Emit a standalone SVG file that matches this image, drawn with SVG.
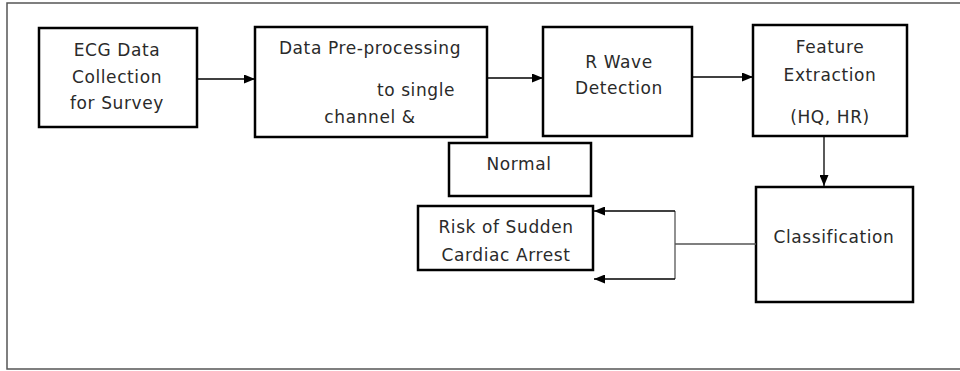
<svg xmlns="http://www.w3.org/2000/svg" width="960" height="371" viewBox="0 0 960 371">
<defs>
<style>
.frame{fill:none;stroke:#555;stroke-width:1.5}
.box{fill:#fff;stroke:#000;stroke-width:2.5}
.t{font-family:"DejaVu Sans",Verdana,sans-serif;font-size:17px;fill:#2a2a2a;letter-spacing:0.6px;text-anchor:middle}
.c{fill:none;stroke:#000;stroke-width:1.3}
.g{fill:none;stroke:#555;stroke-width:1.3}
</style>
<marker id="ah" markerWidth="11" markerHeight="9" refX="11" refY="4.5" orient="auto" markerUnits="userSpaceOnUse">
<path d="M0,0 L11,4.5 L0,9 Z" fill="#000"/>
</marker>
</defs>
<rect width="960" height="371" fill="#fff"/>
<rect class="frame" x="7" y="3" width="970" height="366"/>
<g id="n-ecg">
<rect class="box" x="39" y="28" width="158" height="99"/>
<text class="t" x="117" y="56">ECG Data</text>
<text class="t" x="117" y="83">Collection</text>
<text class="t" x="117" y="109">for Survey</text>
</g>
<g id="n-pre">
<rect class="box" x="255" y="27" width="232" height="110"/>
<text class="t" x="370" y="54">Data Pre-processing</text>
<text class="t" x="416" y="96">to single</text>
<text class="t" x="370" y="123">channel &amp;</text>
</g>
<g id="n-rwave">
<rect class="box" x="543" y="27" width="149" height="109"/>
<text class="t" x="619" y="68">R Wave</text>
<text class="t" x="619" y="94">Detection</text>
</g>
<g id="n-feature">
<rect class="box" x="753" y="25" width="154" height="111"/>
<text class="t" x="830" y="53">Feature</text>
<text class="t" x="830" y="81">Extraction</text>
<text class="t" x="830" y="123">(HQ, HR)</text>
</g>
<g id="n-normal">
<rect class="box" x="449" y="143" width="142" height="53"/>
<text class="t" x="519" y="170">Normal</text>
</g>
<g id="n-risk">
<rect class="box" x="418" y="206" width="175" height="64"/>
<text class="t" x="506" y="233">Risk of Sudden</text>
<text class="t" x="506" y="261">Cardiac Arrest</text>
</g>
<g id="n-class">
<rect class="box" x="756" y="187" width="157" height="115"/>
<text class="t" x="834" y="243">Classification</text>
</g>
<g id="connectors">
<line class="c" x1="197" y1="79" x2="255" y2="79" marker-end="url(#ah)"/>
<line class="c" x1="487" y1="78" x2="543" y2="78" marker-end="url(#ah)"/>
<line class="c" x1="692" y1="77" x2="753" y2="77" marker-end="url(#ah)"/>
<line class="c" x1="824" y1="136" x2="824" y2="186" marker-end="url(#ah)"/>
<polyline class="g" points="756,244 675,244"/>
<polyline class="g" points="675,211 675,279"/>
<line class="c" x1="675" y1="211" x2="594" y2="211" marker-end="url(#ah)"/>
<line class="c" x1="675" y1="279" x2="594" y2="279" marker-end="url(#ah)"/>
</g>
</svg>
